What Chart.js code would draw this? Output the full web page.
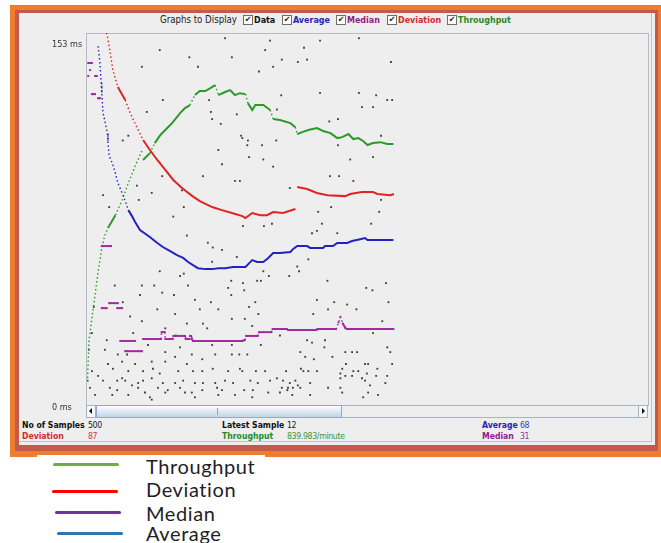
<!DOCTYPE html>
<html><head><meta charset="utf-8">
<script src="https://cdn.jsdelivr.net/npm/chart.js@4/dist/chart.umd.min.js"></script>
<style>
html,body{margin:0;padding:0;background:#fff;width:661px;height:543px;overflow:hidden;position:relative;}
.abs{position:absolute;white-space:nowrap;}
.jf{font-family:"DejaVu Sans Condensed","DejaVu Sans",sans-serif;font-size:9.6px;line-height:12px;}
.hb{font-weight:bold;font-size:8.9px;}
.st{font-size:8.7px;}
.sb{font-weight:bold;font-size:8.6px;}
.sv{letter-spacing:-0.35px;}
.cb{position:absolute;width:8px;height:8px;border:1px solid #6e6e6e;background:#fff;box-sizing:content-box;font-size:8px;line-height:8px;text-align:center;color:#222;font-family:"DejaVu Sans",sans-serif;}
.lg{font-family:Lato,"Open Sans",sans-serif;font-size:20px;color:#1e1e26;line-height:22px;letter-spacing:0.6px;}
.ll{position:absolute;height:3px;border-radius:2px;}
</style></head>
<body>
<div class="abs" style="left:10px;top:5px;width:651px;height:452px;background:#ED7D31;"></div>
<div class="abs" style="left:15px;top:10px;width:643px;height:441px;background:#C55A4B;"></div>
<div class="abs" style="left:19px;top:13px;width:636px;height:432px;background:#EEEEEE;"></div>
<div class="abs" style="left:19px;top:13px;width:632px;height:428px;border-right:1px solid #c4c4c4;border-bottom:1px solid #c4c4c4;"></div>

<!-- header row -->
<div class="abs jf" style="left:160px;top:14px;color:#222;">Graphs to Display</div>
<div class="cb" style="left:243px;top:15px;">✔</div><div class="abs jf hb" style="left:254px;top:14px;color:#111;">Data</div>
<div class="cb" style="left:282px;top:15px;">✔</div><div class="abs jf hb" style="left:293px;top:14px;color:#2525b0;">Average</div>
<div class="cb" style="left:336px;top:15px;">✔</div><div class="abs jf hb" style="left:347px;top:14px;color:#8a1f8a;">Median</div>
<div class="cb" style="left:387px;top:15px;">✔</div><div class="abs jf hb" style="left:398px;top:14px;color:#d02a2a;">Deviation</div>
<div class="cb" style="left:447px;top:15px;">✔</div><div class="abs jf hb" style="left:458px;top:14px;color:#2a8a2a;">Throughput</div>

<!-- plot box -->
<div class="abs" style="left:86px;top:33px;width:561px;height:371px;border:1px solid #b3bcc6;"></div>

<!-- scrollbar -->
<div class="abs" style="left:86px;top:405px;width:562px;height:13px;background:#eeeeee;border:1px solid #a8b3c0;box-sizing:border-box;"></div>
<div class="abs" style="left:86px;top:405px;width:10px;height:13px;border:1px solid #a8b3c0;box-sizing:border-box;background:#f4f6f9;"></div>
<div class="abs" style="left:89px;top:408px;width:0;height:0;border-top:3px solid transparent;border-bottom:3px solid transparent;border-right:3px solid #111;"></div>
<div class="abs" style="left:96px;top:405px;width:246px;height:13px;border:1px solid #8fa9cc;box-sizing:border-box;background:linear-gradient(#ffffff,#dde8f4 50%,#c3d5ea);"></div>
<div class="abs" style="left:217px;top:408px;width:1px;height:7px;background:#8a9fbd;"></div>
<div class="abs" style="left:638px;top:405px;width:10px;height:13px;border:1px solid #a8b3c0;box-sizing:border-box;background:#f4f6f9;"></div>
<div class="abs" style="left:642px;top:408px;width:0;height:0;border-top:3px solid transparent;border-bottom:3px solid transparent;border-left:3px solid #111;"></div>

<!-- stats -->
<div class="abs jf sb" style="left:22px;top:419px;color:#111;">No of Samples</div>
<div class="abs jf st sv" style="left:88px;top:419px;color:#222;">500</div>
<div class="abs jf sb" style="left:222px;top:419px;color:#111;">Latest Sample</div>
<div class="abs jf st sv" style="left:287px;top:419px;color:#222;">12</div>
<div class="abs jf sb" style="left:482px;top:419px;color:#2525b0;">Average</div>
<div class="abs jf st sv" style="left:520px;top:419px;color:#3a3ab8;">68</div>
<div class="abs jf sb" style="left:22px;top:430px;color:#cc2b2b;">Deviation</div>
<div class="abs jf st sv" style="left:88px;top:430px;color:#cc3b3b;">87</div>
<div class="abs jf sb" style="left:222px;top:430px;color:#2a8a2a;">Throughput</div>
<div class="abs jf st sv" style="left:287px;top:430px;color:#3a963a;">839.983/minute</div>
<div class="abs jf sb" style="left:482px;top:430px;color:#8a1f8a;">Median</div>
<div class="abs jf st sv" style="left:520px;top:430px;color:#943094;">31</div>

<!-- pasted legend -->
<div class="abs" style="left:37px;top:455px;width:228px;height:88px;background:#fff;"></div>
<div class="ll" style="left:53px;top:463px;width:66px;background:#70AD47;"></div>
<div class="ll" style="left:52px;top:490px;width:66px;background:#FF0000;"></div>
<div class="ll" style="left:55px;top:511px;width:66px;background:#7030A0;"></div>
<div class="ll" style="left:57px;top:532px;width:66px;background:#2E75B6;"></div>
<div class="abs lg" style="left:146px;top:455px;">Throughput</div>
<div class="abs lg" style="left:146px;top:478px;">Deviation</div>
<div class="abs lg" style="left:146px;top:502px;">Median</div>
<div class="abs lg" style="left:146px;top:522px;">Average</div>

<canvas id="c" width="661" height="543" style="position:absolute;left:0;top:0;"></canvas>
<script>
// ---- axis ----
const yTickValues = [0, 153];
const xSampleMax = 910; // visible sample window of the graph panel

// ---- Data (individual samples, ms) ----
const dataSample = [224,118,166,235,89,180,123,198,97,201,243,203,217,250,58,67,213,219,122,188,240,248,81,105,154,26,84,157,36,140,
297,378,441,289,352,316,357,342,302,493,279,315,378,441,469,495,487,446,464,308,393,407,261,252,284,307,260,477,407,263,286,427,464,302,394,409,432,329,477,396,375,474,
162,196,204,219,243,203,151,157,118,234,45,89,109,164,229,122,141,86,234,175,58,11,201,114,143,183,213,70,89,162,235,188,8,75,127,195,144,32,235,203,29,3,50,65,99,127,151,170,187,208,235,247,
34,57,78,105,127,143,162,8,18,42,67,91,107,118,148,172,187,204,229,248,1,26,49,57,62,73,83,91,105,123,143,156,175,188,208,224,237,5,37,49,83,94,115,131,151,170,187,211,219,13,41,67,102,127,159,175,213,240,105,
381,461,287,300,373,365,406,253,359,341,344,286,295,328,390,276,282,253,255,453,463,485,373,401,422,437,489,263,273,391,278,367,256,479,268,464,313,357,365,386,282,385,346,419,430,438,487,492,260,354,368,398,420,451,456,495,
252,274,323,289,347,351,359,373,414,432,440,471,411,419,430,454,469,487,265,297,308,318,329,338,362,411,446,451,277,326,334,342,346,391,411,459,484,325,316,269,255,294,313,333,362,414,456,472,268,448];
const dataMs = [153,148,145,145,141,141,127,127,122,122,121,119,117,112,110,112,106,100,95,95,93,93,91,88,89,87,85,82,82,78,
152,152,153,148,149,144,144,143,141,143,139,129,130,130,129,127,127,124,124,123,118,119,110,111,108,110,108,112,108,103,102,102,103,99,95,95,93,90,85,82,80,80,
70,67,65,64,61,59,53,54,55,51,49,49,49,49,48,46,45,45,45,43,42,40,42,39,37,39,39,36,34,33,35,33,29,29,31,31,28,26,24,24,22,22,20,20,24,21,23,20,18,20,20,20,
16,17,16,17,17,19,16,13,11,14,13,13,14,12,13,13,13,14,13,14,9,9,9,10,9,7,8,9,10,8,8,9,8,8,8,9,8,6,6,5,6,4,6,5,6,4,5,6,5,3,3,3,2,4,4,2,3,3,1,
75,75,74,75,72,71,71,74,60,57,55,55,53,53,51,51,51,50,47,48,47,50,43,42,41,39,42,40,42,39,37,37,35,34,32,29,28,26,25,26,24,23,21,21,21,21,23,21,20,19,18,19,16,16,16,16,
13,13,13,13,14,13,13,13,14,13,13,14,12,11,11,12,11,11,9,9,10,9,8,9,8,10,10,9,8,6,6,7,6,6,6,7,8,5,6,5,5,4,4,3,3,4,4,3,2,2];

// ---- Average (ms) ----
const avgSample = [18,21,23,24,26,29,33,34,36,41,46,50,57,62,67,73,78,86,102,114,123,135,146,156,164,172,180,192,203,213,224,237,257,260,268,276,286,294,302,313,330,334,341,357,362,383,386,399,406,422,430,443,451,455,497];
const avgMs = [149.7,142.6,134.1,129.9,121.5,118.2,113.1,108.9,103.4,100.5,96.3,92.1,87.9,84.5,80.7,78.2,75.7,72.3,69.4,66.9,65.2,63.5,61.8,60.6,58.9,57.6,56.3,55.9,55.9,56.3,56.3,56.8,56.8,57.6,59.7,58.9,58.9,60.6,62.7,62.7,63.1,64.3,65.6,65.6,64.8,64.8,65.6,65.6,66.9,66.9,67.7,68.5,69.0,68.1,68.1];

// ---- Median (ms), null = break ----
const medianSample = [2,8,8,5,5,2,2,13,16,16,8,13,13,18,21,21,24,39,39,24,32,32,36,50,50,49,57,57,54,78,78,62,89,89,
91,120,121,126,127,139,140,159,160,166,167,169,170,172,252,256,258,277,279,299,301,324,326,372,374,404,408,411,415,419,422,497];
const medianMs = [142.6,142.6,null,139.6,null,137.1,null,137.1,137.1,null,129.5,129.5,null,127.8,127.8,null,65.6,65.6,null,39.5,39.5,null,41.6,41.6,null,39.5,39.5,null,25.7,25.7,null,21.4,21.4,null,
26.5,26.5,29.4,29.4,26.5,26.5,27.8,27.8,26.5,26.5,27.8,27.8,26.5,25.7,25.7,26.1,27.8,27.8,29.4,29.4,30.7,30.7,30.3,30.3,30.7,30.7,33.5,35.7,33.0,31.1,30.7,30.7];

// ---- Deviation (ms), null = break ----
const devSample = [28,33,37,42,50,62,70,83,91,102,114,127,140,154,171,183,203,219,235,252,257,268,281,292,302,318,338,339,341,357,373,390,419,427,446,464,471,492,498];
const devMs = [158.5,153.9,148.0,139.6,132.5,127.0,121.5,114.4,110.2,106.0,101.8,97.6,93.4,90.0,86.6,84.5,82.0,80.7,79.5,78.2,77.4,79.5,78.6,78.6,79.9,79.5,81.2,null,90.4,89.6,87.9,87.0,86.6,87.5,88.3,88.3,87.5,87.0,87.5];

// ---- Throughput (plotted on the graph scale), null = break ----
const tpSample = [1,3,8,13,18,24,29,34,46,57,67,78,89,90,91,102,110,119,127,138,151,159,167,175,183,192,200,208,213,224,232,240,248,257,261,268,273,286,297,302,313,330,338,341,349,359,373,383,395,406,414,424,432,440,448,455,464,476,487,497];
const tpMs = [10.1,25.2,35.3,45.0,54.7,64.8,70.2,73.2,78.6,84.9,92.1,99.2,105.6,null,101.8,104.7,108.9,112.3,114.4,117.3,121.5,123.6,124.9,129.1,130.8,130.8,132.0,133.3,129.1,130.4,131.2,129.1,129.9,129.5,125.7,122.8,124.9,124.9,122.8,119.0,118.6,117.3,115.6,112.7,113.5,114.4,115.2,114.0,113.1,111.0,111.4,112.7,110.6,111.0,109.8,108.1,108.9,109.3,108.5,108.5];

const toPts = (xs, ys) => xs.map((x, k) => ({x: x, y: ys[k]}));
// steep stretches look dotted (one dot per sample, spread apart vertically)
const steep = ctx => Math.abs((ctx.p1.y - ctx.p0.y) / Math.max(0.01, ctx.p1.x - ctx.p0.x)) > 2;
const lineDs = (label, xs, ys, color, pr) => ({
  label, data: toPts(xs, ys), showLine: true, borderColor: color, backgroundColor: color,
  borderWidth: 2, pointRadius: pr, pointBorderWidth: 0, pointStyle: 'rect',
  spanGaps: false, clip: 0, order: 1,
  segment: {
    borderDash: ctx => steep(ctx) ? [1.5, 2.5] : undefined,
    borderWidth: ctx => steep(ctx) ? 1.4 : undefined
  }
});

new Chart(document.getElementById('c'), {
  type: 'scatter',
  data: {
    datasets: [
      lineDs('Average', avgSample, avgMs, '#2222c4', 0),
      lineDs('Median', medianSample, medianMs, '#a02aa0', 1.4),
      lineDs('Deviation', devSample, devMs, '#e02424', 0),
      lineDs('Throughput', tpSample, tpMs, '#2a9a2a', 0),
      { label: 'Data', data: toPts(dataSample, dataMs), pointStyle: 'rect', pointRadius: 1.3,
        backgroundColor: '#3c3c3c', borderWidth: 0, clip: 0, order: 5 }
    ]
  },
  options: {
    responsive: false, animation: false, events: [],
    layout: { padding: { left: 52, top: 33, right: 13, bottom: 140 } },
    plugins: { legend: { display: false }, tooltip: { enabled: false } },
    scales: {
      x: { type: 'linear', min: 0, max: xSampleMax, display: false },
      y: {
        type: 'linear', min: -0.4, max: 155.2,
        afterBuildTicks: s => { s.ticks = yTickValues.map(v => ({ value: v })); },
        afterFit: s => { s.width = 35; },
        grid: { display: false }, border: { display: false },
        ticks: { callback: v => v + ' ms', crossAlign: 'far', labelOffset: 6, padding: 0,
                 color: '#333', font: { family: '"DejaVu Sans Condensed","DejaVu Sans",sans-serif', size: 9 } }
      }
    }
  }
});
</script>
</body></html>
